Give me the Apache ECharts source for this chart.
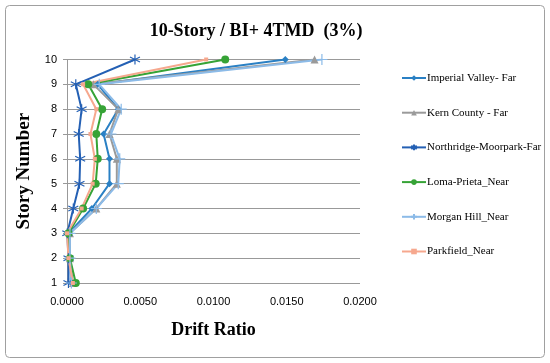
<!DOCTYPE html>
<html><head><meta charset="utf-8">
<script src="https://cdn.jsdelivr.net/npm/echarts@6/dist/echarts.min.js"></script>
<style>html,body{margin:0;padding:0;background:#fff}#c{width:550px;height:363px}</style>
</head><body><div id="c"></div>
<script>
var stories = [1,2,3,4,5,6,7,8,9,10];
var xTicks = [0, 0.005, 0.01, 0.015, 0.02];
var imperialValley = [0.0003,0.0002,0.0001,0.0017,0.0029,0.0029,0.0025,0.0035,0.0021,0.0149];
var kernCounty     = [0.0004,0.0002,0.0002,0.0020,0.0034,0.0034,0.0029,0.0035,0.0018,0.0169];
var northridge     = [0.0001,0.0001,0.00002,0.00043,0.00085,0.0009,0.0008,0.0010,0.0006,0.00464];
var lomaPrieta     = [0.0006,0.0002,0.0001,0.0011,0.00196,0.0021,0.0020,0.0024,0.00145,0.0108];
var morganHill     = [0.0003,0.0002,0.0002,0.0020,0.0035,0.0036,0.0030,0.0037,0.0022,0.0174];
var parkfield      = [0.0004,0.0001,0.0000,0.0010,0.00175,0.0019,0.0016,0.0020,0.0011,0.0095];
var names = ['Imperial Valley- Far','Kern County - Far','Northridge-Moorpark-Far','Loma-Prieta_Near','Morgan Hill_Near','Parkfield_Near'];

function pairs(arr){ return arr.map(function(v,i){ return [v, stories[i]]; }); }
var asterisk = 'path://M0,-5L0,5M-4.3,-2.5L4.3,2.5M-4.3,2.5L4.3,-2.5';
var plus = 'path://M0,-5L0,5M-5,0L5,0';
function ser(name, data, color, symbol, size, strokeSym){
  return {
    name: name, type: 'line', data: pairs(data), symbol: symbol, symbolSize: size,
    lineStyle: {color: color, width: 2},
    itemStyle: strokeSym ? {color: color, borderColor: color, borderWidth: 1.2} : {color: color, borderWidth: 0},
    emphasis: {disabled: true}, animation: false
  };
}
var chart = echarts.init(document.getElementById('c'));
chart.setOption({
  animation: false,
  title: {text: '10-Story / BI+ 4TMD  (3%)', left: 251, textAlign: 'center', top: 17,
    textStyle: {fontFamily: 'Liberation Serif', fontWeight: 'bold', fontSize: 18, color: '#000'}},
  graphic: [{type: 'rect', shape: {x: 5.5, y: 5.5, width: 539, height: 352, r: 4},
    style: {fill: 'none', stroke: '#a0a0a0', lineWidth: 1}, silent: true}],
  grid: {left: 67, right: 190, top: 59.5, bottom: 80},
  legend: {
    orient: 'vertical', left: 396, top: 67.5, itemGap: 23.7, itemWidth: 24, itemHeight: 7,
    textStyle: {fontFamily: 'Liberation Serif', fontSize: 11, color: '#000', padding: [0,0,0,-4]},
    data: names
  },
  xAxis: {
    type: 'value', min: 0, max: 0.02, interval: 0.005,
    name: 'Drift Ratio', nameLocation: 'middle', nameGap: 38,
    nameTextStyle: {fontFamily: 'Liberation Serif', fontWeight: 'bold', fontSize: 18, color: '#000'},
    axisLine: {show: false}, axisTick: {show: false}, splitLine: {show: false},
    axisLabel: {fontFamily: 'Liberation Sans', fontSize: 11, color: '#000', margin: 13,
      formatter: function(v){ return v.toFixed(4); }}
  },
  yAxis: {
    type: 'value', min: 1, max: 10, interval: 1,
    name: 'Story Number', nameLocation: 'middle', nameGap: 27,
    nameTextStyle: {fontFamily: 'Liberation Serif', fontWeight: 'bold', fontSize: 19, color: '#000'},
    axisLine: {show: true, lineStyle: {color: '#999', width: 1}},
    axisTick: {show: true, length: 4, lineStyle: {color: '#999'}},
    splitLine: {show: true, lineStyle: {color: '#999', width: 1}},
    axisLabel: {fontFamily: 'Liberation Sans', fontSize: 11, color: '#000', margin: 10}
  },
  series: [
    ser(names[0], imperialValley, '#2a80c4', 'diamond', 7, false),
    ser(names[1], kernCounty, '#9a9a9a', 'triangle', 8, false),
    ser(names[2], northridge, '#2460b4', asterisk, 10, true),
    ser(names[3], lomaPrieta, '#36a336', 'circle', 8, false),
    ser(names[4], morganHill, '#8cbbe8', plus, 11, true),
    ser(names[5], parkfield, '#f6a88e', 'rect', 4, false)
  ]
});
</script></body></html>
